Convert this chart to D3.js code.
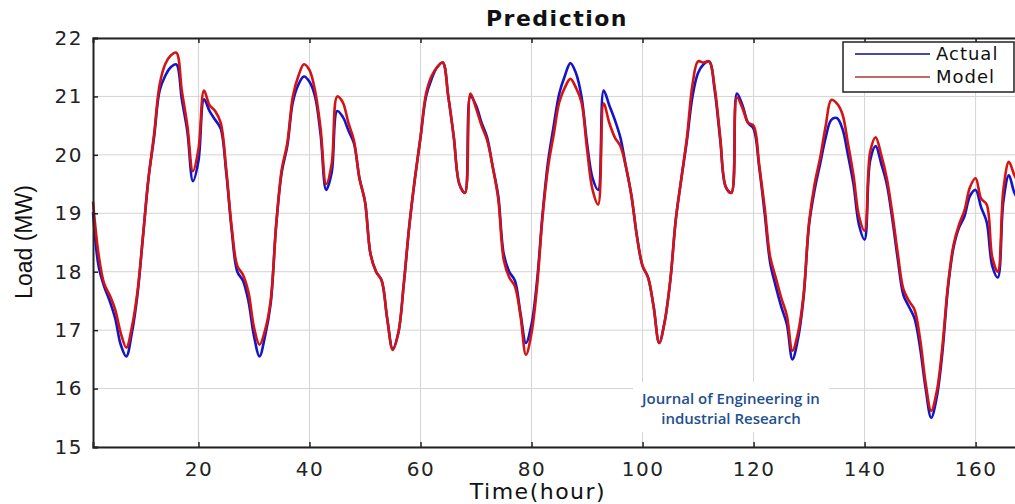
<!DOCTYPE html>
<html>
<head>
<meta charset="utf-8">
<script src="https://cdn.jsdelivr.net/npm/d3@7"></script>
<style>
  body { margin: 0; background: #fff; }
  svg { display: block; }
</style>
</head>
<body>
<div id="chart"></div>
<script>
// hourly load (hour 1 .. 168)
const actual = [
  19.02, 18.1, 17.75, 17.5, 17.2, 16.75, 16.55, 16.95, 17.6, 18.6,
  19.6, 20.3, 21.1, 21.35, 21.5, 21.55, 20.95, 20.4, 19.55, 19.9,
  20.95, 20.75, 20.6, 20.45, 19.7, 18.7, 18.0, 17.85, 17.5, 16.9,
  16.55, 16.9, 17.45, 18.8, 19.7, 20.15, 20.9, 21.2, 21.34, 21.25,
  21.0, 20.35, 19.4, 19.7, 20.75, 20.65, 20.42, 20.2, 19.6, 19.2,
  18.3, 18.0, 17.85, 17.2, 16.68, 16.95, 17.8, 18.8, 19.6, 20.3,
  21.0, 21.3, 21.5, 21.58, 21.0, 20.3, 19.5, 19.35, 21.0, 20.85,
  20.55, 20.3, 19.8, 19.3, 18.3, 18.0, 17.85, 17.3, 16.78, 17.1,
  17.85, 19.0, 19.9, 20.5, 21.05, 21.35, 21.57, 21.4, 21.0, 20.2,
  19.6, 19.4, 21.1, 20.85, 20.6, 20.3, 19.8, 19.3, 18.6, 18.1,
  17.9, 17.4, 16.78, 17.15, 17.85, 18.9, 19.6, 20.25, 21.0, 21.4,
  21.55, 21.6, 21.1, 20.25, 19.45, 19.35, 21.05, 20.85, 20.55, 20.45,
  19.8, 19.0, 18.15, 17.75, 17.4, 17.1, 16.5, 16.85, 17.55, 18.8,
  19.4, 19.85, 20.3, 20.6, 20.63, 20.45, 20.0, 19.5, 18.8, 18.55,
  19.9, 20.15, 19.85, 19.5, 18.9, 18.2, 17.6, 17.4, 17.2, 16.7,
  16.0, 15.5, 15.85, 16.6, 17.7, 18.4, 18.75, 18.95, 19.3, 19.4,
  19.1, 18.85, 18.1, 17.9, 19.2, 19.65, 19.35, 19.2
];
const model = [
  19.2, 18.3, 17.8, 17.6, 17.35, 16.95, 16.7, 17.05, 17.65, 18.6,
  19.6, 20.35, 21.2, 21.55, 21.7, 21.75, 21.1, 20.5, 19.72, 20.1,
  21.1, 20.85, 20.75, 20.55, 19.75, 18.75, 18.1, 17.95, 17.65, 17.05,
  16.75, 17.0, 17.5, 18.8, 19.75, 20.2, 21.0, 21.35, 21.55, 21.45,
  21.1, 20.45, 19.5, 19.85, 21.0, 20.9, 20.55, 20.25, 19.6, 19.2,
  18.3, 18.0, 17.85, 17.2, 16.66, 16.95, 17.8, 18.8, 19.6, 20.3,
  21.05, 21.35, 21.5, 21.58, 21.0, 20.3, 19.5, 19.35, 21.05, 20.8,
  20.5, 20.25, 19.8, 19.25, 18.2, 17.9, 17.75, 17.25, 16.58, 16.95,
  17.75, 18.95, 19.8, 20.35, 20.9, 21.15, 21.3, 21.15, 20.9, 20.1,
  19.4, 19.15, 20.88, 20.55, 20.3, 20.15, 19.8, 19.3, 18.6, 18.1,
  17.9, 17.4, 16.78, 17.15, 17.85, 18.9, 19.6, 20.3, 21.2, 21.6,
  21.58, 21.6, 21.15, 20.3, 19.45, 19.35, 20.98, 20.8, 20.55, 20.5,
  19.85, 19.1, 18.25, 17.9, 17.55, 17.25, 16.65, 16.95, 17.6, 18.85,
  19.5, 19.95, 20.5, 20.94, 20.88, 20.7, 20.2, 19.65, 18.95, 18.7,
  20.05, 20.3, 20.0, 19.6, 19.0, 18.3, 17.7, 17.5, 17.35, 16.85,
  16.1, 15.62, 15.95, 16.7, 17.75, 18.45, 18.8, 19.05, 19.45, 19.6,
  19.25, 19.15, 18.25, 18.0, 19.4, 19.88, 19.65, 19.5
];
const xTicks = [20, 40, 60, 80, 100, 120, 140, 160];
const yTicks = [15, 16, 17, 18, 19, 20, 21, 22];
const seriesNames = ["Actual", "Model"];

const W = 1015, H = 504;
const plotL = 93, plotT = 38, plotR = 1020, plotB = 447;

const svg = d3.select("#chart").append("svg")
    .attr("width", W)
    .attr("height", H);

const x = d3.scaleLinear().domain([1, 168]).range([plotL, plotR]);
const y = d3.scaleLinear().domain([15, 22]).range([plotB, plotT]);

//grid
svg.append("g").selectAll("line").data(xTicks).join("line")
    .attr("x1", d => x(d)).attr("x2", d => x(d))
    .attr("y1", plotT).attr("y2", plotB)
    .attr("stroke", "#d4d4d4").attr("stroke-width", 1);
svg.append("g").selectAll("line").data(yTicks).join("line")
    .attr("x1", plotL).attr("x2", plotR)
    .attr("y1", d => y(d)).attr("y2", d => y(d))
    .attr("stroke", "#d4d4d4").attr("stroke-width", 1);

// watermark box sits over the grid
svg.append("rect")
    .attr("x", 633).attr("y", 382)
    .attr("width", 196).attr("height", 50)
    .attr("fill", "#fff");

// curves
const line = d3.line()
    .x((d, i) => x(i + 1))
    .y(d => y(d))
    .curve(d3.curveCatmullRom.alpha(0.5));

svg.append("path").datum(actual)
    .attr("d", line)
    .attr("fill", "none")
    .attr("stroke", "#1414c8")
    .attr("stroke-width", 2.6);
svg.append("path").datum(model)
    .attr("d", line)
    .attr("fill", "none")
    .attr("stroke", "#d41414")
    .attr("stroke-width", 2.6);

// axes (MATLAB style, ticks inward)
const fontTick = "'DejaVu Sans', sans-serif";
const xAxis = d3.axisBottom(x).tickValues(xTicks).tickSize(-5).tickPadding(12);
const yAxis = d3.axisLeft(y).tickValues(yTicks).tickSize(-5).tickPadding(10)
    .tickFormat(d3.format("d"));
const xTop = d3.axisTop(x).tickValues(xTicks).tickSize(-5).tickFormat("");

const gx = svg.append("g").attr("transform", `translate(0,${plotB})`).call(xAxis);
const gy = svg.append("g").attr("transform", `translate(${plotL},0)`).call(yAxis);
const gt = svg.append("g").attr("transform", `translate(0,${plotT})`).call(xTop);

[gx, gy, gt].forEach(g => {
    g.select(".domain").attr("stroke", "#222").attr("stroke-width", 2);
    g.selectAll(".tick line").attr("stroke", "#222").attr("stroke-width", 1.5);
    g.selectAll(".tick text")
        .attr("fill", "#222")
        .style("font-family", fontTick)
        .style("font-size", "20px")
        .style("letter-spacing", "1.5px");
});
gx.selectAll(".tick text").attr("dy", "0.85em");

// title + labels
svg.append("text")
    .attr("x", 557).attr("y", 26)
    .attr("text-anchor", "middle")
    .style("font-family", fontTick)
    .style("font-weight", "bold")
    .style("font-size", "22px")
    .style("letter-spacing", "1.5px")
    .attr("fill", "#111")
    .text("Prediction");

svg.append("text")
    .attr("x", 538).attr("y", 499)
    .attr("text-anchor", "middle")
    .style("font-family", fontTick)
    .style("font-size", "22px")
    .style("letter-spacing", "1.5px")
    .attr("fill", "#111")
    .text("Time(hour)");

svg.append("text")
    .attr("transform", `translate(32,242) rotate(-90)`)
    .attr("text-anchor", "middle")
    .style("font-family", "'Liberation Sans Narrow', 'Liberation Sans', sans-serif")
    .style("font-size", "23px")
    .attr("fill", "#111")
    .text("Load (MW)");

// watermark text
const wm = ["Journal of Engineering in", "industrial Research"];
svg.append("g").selectAll("text").data(wm).join("text")
    .attr("x", 731)
    .attr("y", (d, i) => 404 + i * 20)
    .attr("text-anchor", "middle")
    .style("font-family", "'Open Sans', sans-serif")
    .style("font-weight", "600")
    .style("font-size", "15px")
    .attr("fill", "#1f4f8f")
    .text(d => d);

// legend
const lg = svg.append("g");
lg.append("rect")
    .attr("x", 843).attr("y", 42)
    .attr("width", 171).attr("height", 50)
    .attr("fill", "#fff")
    .attr("stroke", "#222").attr("stroke-width", 1.5);
const legendColors = ["#4646b8", "#c26a6a"];
seriesNames.forEach((name, i) => {
    const ly = 54 + i * 23;
    lg.append("line")
        .attr("x1", 855).attr("x2", 930)
        .attr("y1", ly).attr("y2", ly)
        .attr("stroke", legendColors[i]).attr("stroke-width", 2);
    lg.append("text")
        .attr("x", 936).attr("y", ly + 6)
        .style("font-family", fontTick)
        .style("font-size", "18px")
        .style("letter-spacing", "1px")
        .attr("fill", "#111")
        .text(name);
});
</script>
</body>
</html>
